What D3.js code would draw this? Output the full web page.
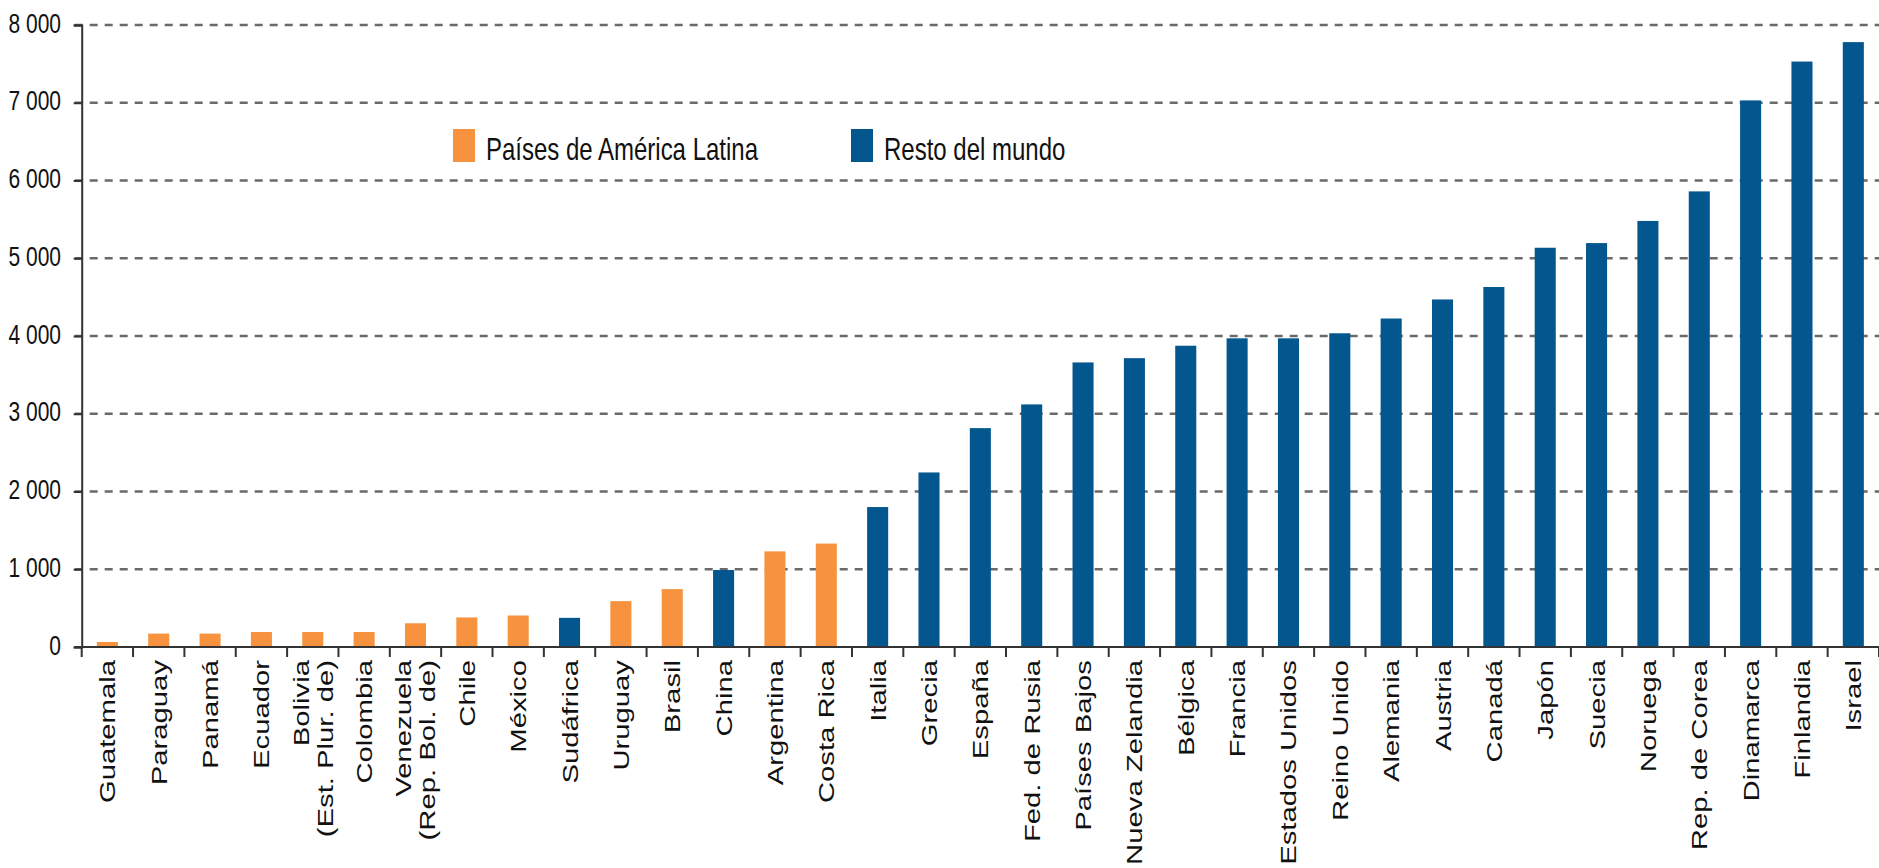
<!DOCTYPE html>
<html>
<head>
<meta charset="utf-8">
<script src="https://cdn.jsdelivr.net/npm/d3@7"></script>
<style>
  html, body { margin: 0; padding: 0; background: #ffffff; }
  svg { display: block; font-family: "Liberation Sans", Arial, sans-serif; }
</style>
</head>
<body>
<svg id="chart" width="1879" height="868"></svg>
<script>
// ---- data ----
const categories = [
  ["Guatemala"], ["Paraguay"], ["Panamá"], ["Ecuador"], ["Bolivia", "(Est. Plur. de)"],
  ["Colombia"], ["Venezuela", "(Rep. Bol. de)"], ["Chile"], ["México"], ["Sudáfrica"],
  ["Uruguay"], ["Brasil"], ["China"], ["Argentina"], ["Costa Rica"], ["Italia"],
  ["Grecia"], ["España"], ["Fed. de Rusia"], ["Países Bajos"], ["Nueva Zelandia"],
  ["Bélgica"], ["Francia"], ["Estados Unidos"], ["Reino Unido"], ["Alemania"],
  ["Austria"], ["Canadá"], ["Japón"], ["Suecia"], ["Noruega"], ["Rep. de Corea"],
  ["Dinamarca"], ["Finlandia"], ["Israel"]
];
const values = [
  65, 172, 172, 193, 193, 193, 305, 380, 405, 375,
  590, 745, 990, 1230, 1330, 1800, 2245, 2815, 3120, 3660,
  3715, 3875, 3970, 3970, 4035, 4225, 4470, 4630, 5135, 5195,
  5480, 5860, 7030, 7530, 7780
];
// group of each category: "lat" = Países de América Latina, "row" = Resto del mundo
const groups = [
  "lat", "lat", "lat", "lat", "lat", "lat", "lat", "lat", "lat", "row",
  "lat", "lat", "row", "lat", "lat", "row", "row", "row", "row", "row",
  "row", "row", "row", "row", "row", "row", "row", "row", "row", "row",
  "row", "row", "row", "row", "row"
];
const seriesKeys = ["lat", "row"];
const seriesNames = ["Países de América Latina", "Resto del mundo"];
const seriesColors = ["#F7923E", "#03568E"];
const yTicks = [0, 1000, 2000, 3000, 4000, 5000, 6000, 7000, 8000];

// ---- layout ----
const svg = d3.select("#chart");
const mLeft = 81.7, mRight = 1879, mTop = 25, mBottom = 647;

const keys = categories.map((c, i) => i);
const x = d3.scaleBand().domain(keys).range([mLeft, mRight]).paddingInner(0.59).paddingOuter(0.295);
const xb = d3.scaleBand().domain(keys).range([mLeft, mRight]).padding(0);
const y = d3.scaleLinear().domain([0, 8000]).range([mBottom, mTop]);
const color = d3.scaleOrdinal().domain(seriesKeys).range(seriesColors);
const fmt = v => d3.format(",")(v).replace(/,/g, " ");

// gridlines
svg.append("g")
  .selectAll("line")
  .data(yTicks.filter(d => d > 0))
  .join("line")
  .attr("x1", mLeft - 7).attr("x2", mRight)
  .attr("y1", d => y(d)).attr("y2", d => y(d))
  .attr("stroke", "#6a6a6a")
  .attr("stroke-width", 2.5)
  .attr("stroke-dasharray", "8,7");

// bars
svg.append("g")
  .selectAll("rect")
  .data(values)
  .join("rect")
  .attr("x", (d, i) => x(i))
  .attr("width", x.bandwidth())
  .attr("y", d => y(d))
  .attr("height", d => y(0) - y(d))
  .attr("fill", (d, i) => color(groups[i]));

// y axis
const yAxis = svg.append("g")
  .attr("transform", `translate(${mLeft},0)`)
  .call(d3.axisLeft(y).tickValues(yTicks).tickSize(8).tickFormat(""));
yAxis.select(".domain").attr("stroke", "#333").attr("stroke-width", 2);
yAxis.selectAll(".tick line").attr("stroke", "#333").attr("stroke-width", 2);

// y labels (vertically stretched text)
svg.append("g")
  .selectAll("text")
  .data(yTicks)
  .join("text")
  .attr("transform", d => `translate(61,${y(d) + 7.5}) scale(1,1.32)`)
  .attr("text-anchor", "end")
  .attr("font-size", 21)
  .attr("fill", "#111")
  .text(d => fmt(d));

// x axis line and ticks at band boundaries
const xAxisG = svg.append("g");
xAxisG.append("line")
  .attr("x1", mLeft - 7).attr("x2", mRight)
  .attr("y1", mBottom).attr("y2", mBottom)
  .attr("stroke", "#333").attr("stroke-width", 2);
xAxisG.selectAll("line.tk")
  .data(keys)
  .join("line")
  .attr("class", "tk")
  .attr("x1", d => xb(d) + xb.bandwidth()).attr("x2", d => xb(d) + xb.bandwidth())
  .attr("y1", mBottom).attr("y2", mBottom + 10)
  .attr("stroke", "#333").attr("stroke-width", 2);
xAxisG.append("line")
  .attr("x1", mLeft).attr("x2", mLeft)
  .attr("y1", mBottom).attr("y2", mBottom + 10)
  .attr("stroke", "#333").attr("stroke-width", 2);

// x labels (rotated, stretched along their length)
const lab = svg.append("g")
  .selectAll("text")
  .data(categories)
  .join("text")
  .attr("transform", (d, i) => `translate(${xb(i) + xb.bandwidth() / 2},660) rotate(-90) scale(1.33,1)`)
  .attr("text-anchor", "end")
  .attr("font-size", 22)
  .attr("fill", "#111");
lab.each(function(d) {
  const t = d3.select(this);
  const n = d.length;
  d.forEach((line, j) => {
    t.append("tspan")
      .attr("x", 0)
      .attr("y", (j - (n - 1) / 2) * 24 + 8)
      .text(line);
  });
});

// legend
const legendX = [453, 851];
const leg = svg.append("g")
  .selectAll("g")
  .data(seriesKeys)
  .join("g")
  .attr("transform", (d, i) => `translate(${legendX[i]},129)`);
leg.append("rect")
  .attr("width", 22).attr("height", 33)
  .attr("fill", d => color(d));
leg.append("text")
  .attr("transform", "translate(33,31) scale(1,1.28)")
  .attr("font-size", 24)
  .attr("fill", "#111")
  .text((d, i) => seriesNames[i]);
</script>
</body>
</html>
